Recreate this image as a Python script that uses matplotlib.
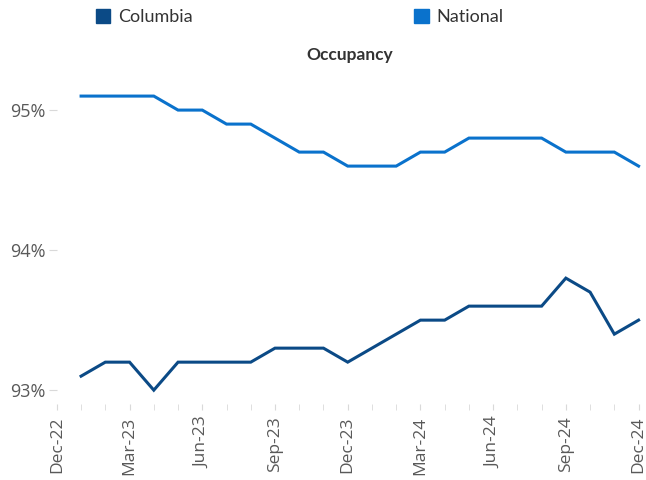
import matplotlib.pyplot as plt
import matplotlib as mpl
from matplotlib.patches import Patch

mpl.rcParams['font.family'] = ['Open Sans', 'DejaVu Sans']

# monthly occupancy, Jan-23 .. Dec-24
columbia = [93.1, 93.2, 93.2, 93.0, 93.2, 93.2, 93.2, 93.2, 93.3, 93.3, 93.3, 93.2,
            93.3, 93.4, 93.5, 93.5, 93.6, 93.6, 93.6, 93.6, 93.8, 93.7, 93.4, 93.5]
national = [95.1, 95.1, 95.1, 95.1, 95.0, 95.0, 94.9, 94.9, 94.8, 94.7, 94.7, 94.6,
            94.6, 94.6, 94.7, 94.7, 94.8, 94.8, 94.8, 94.8, 94.7, 94.7, 94.7, 94.6]
tick_labels = ['Dec-22', 'Mar-23', 'Jun-23', 'Sep-23', 'Dec-23',
               'Mar-24', 'Jun-24', 'Sep-24', 'Dec-24']
y_ticks = [93, 94, 95]

c_col = '#0B4A86'
c_nat = '#0A72CC'

f = plt.figure(figsize=(6.46, 4.8), dpi=100)
ax = f.add_axes([0.088, 0.158, 0.908, 0.671])

x = list(range(1, len(columbia) + 1))
ax.plot(x, columbia, color=c_col, lw=2.2, solid_joinstyle='miter')
ax.plot(x, national, color=c_nat, lw=2.2, solid_joinstyle='miter')

ax.set_xlim(0, 24.2)
ax.set_ylim(92.9, 95.2)

ax.set_xticks(range(0, 25, 3))
ax.set_xticklabels(tick_labels, rotation=90, fontsize=12.5, color='#595959')
ax.set_xticks(range(0, 25), minor=True)
ax.tick_params(axis='x', which='both', length=4, color='#D9D9D9', pad=5)

ax.set_yticks(y_ticks)
ax.set_yticklabels([f'{v}%' for v in y_ticks], fontsize=13, color='#595959')
ax.tick_params(axis='y', length=6, color='#D9D9D9', pad=2)

for s in ax.spines.values():
    s.set_visible(False)

ax.set_title('Occupancy', fontsize=12.5, fontweight='bold', color='#333333',
             family=['Lato', 'DejaVu Sans'], pad=16)

handles = [Patch(color=c_col, label='Columbia'), Patch(color=c_nat, label='National')]
f.legend(handles=handles, loc='upper left', bbox_to_anchor=(96 / 646, 1 - 9 / 480),
         ncol=2, frameon=False, handlelength=0.8, handleheight=0.8,
         handletextpad=0.4, columnspacing=12.3, borderpad=0, borderaxespad=0,
         labelcolor='#333333', prop={'family': ['Lato', 'DejaVu Sans'], 'size': 13})

f.savefig('out.png', dpi=100)
